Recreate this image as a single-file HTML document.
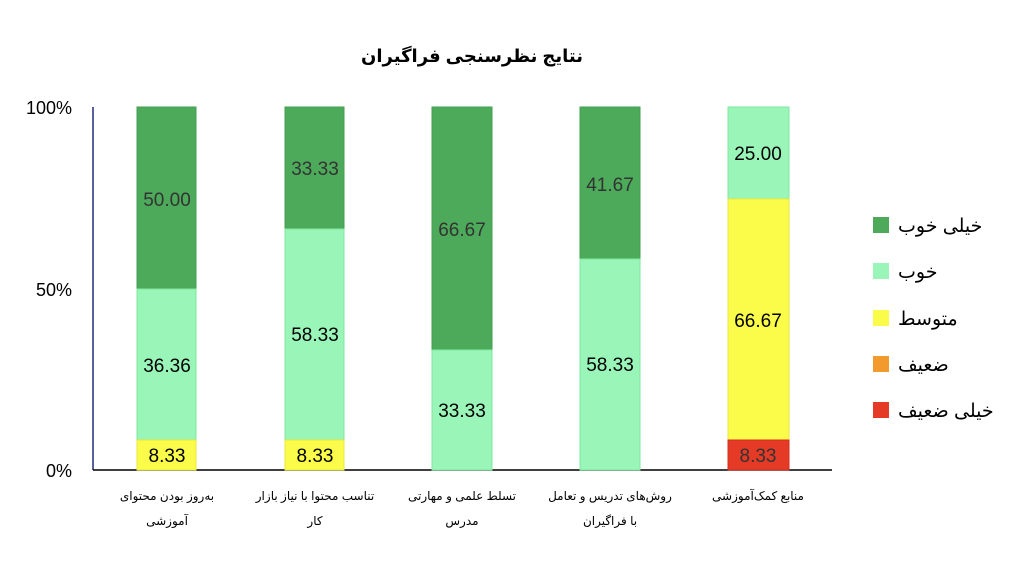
<!DOCTYPE html>
<html><head><meta charset="utf-8"><style>
body{margin:0;background:#fff;width:1024px;height:564px;overflow:hidden;font-family:"Liberation Sans","DejaVu Sans",sans-serif}
</style></head><body>
<svg width="1024" height="564" xmlns="http://www.w3.org/2000/svg" font-family="Liberation Sans, DejaVu Sans, sans-serif">
<rect width="1024" height="564" fill="#fff"/>
<text x="472" y="62" text-anchor="middle" font-size="18" font-weight="bold" fill="#000" direction="rtl">نتایج نظرسنجی فراگیران</text>
<line x1="93" y1="107" x2="93" y2="470" stroke="#1f2d7a" stroke-width="1.5"/>
<line x1="93" y1="470" x2="832" y2="470" stroke="#000" stroke-width="1.5"/>
<g font-size="18" fill="#000" text-anchor="end">
<text x="72" y="114">100%</text><text x="72" y="296">50%</text><text x="72" y="477">0%</text>
</g>
<g stroke-width="1">
<rect x="137" y="107" width="59" height="182" fill="#4caa5a" stroke="#43a050"/>
<rect x="137" y="289" width="59" height="151" fill="#99f5b8" stroke="#7fe89d"/>
<rect x="137" y="440" width="59" height="30" fill="#fbfb4a" stroke="#e8e840"/>
<rect x="285" y="107" width="59" height="122" fill="#4caa5a" stroke="#43a050"/>
<rect x="285" y="229" width="59" height="211" fill="#99f5b8" stroke="#7fe89d"/>
<rect x="285" y="440" width="59" height="30" fill="#fbfb4a" stroke="#e8e840"/>
<rect x="432" y="107" width="60" height="243" fill="#4caa5a" stroke="#43a050"/>
<rect x="432" y="350" width="60" height="120" fill="#99f5b8" stroke="#7fe89d"/>
<rect x="580" y="107" width="60" height="152" fill="#4caa5a" stroke="#43a050"/>
<rect x="580" y="259" width="60" height="211" fill="#99f5b8" stroke="#7fe89d"/>
<rect x="728" y="107" width="61" height="92" fill="#99f5b8" stroke="#7fe89d"/>
<rect x="728" y="199" width="61" height="241" fill="#fbfb4a" stroke="#e8e840"/>
<rect x="728" y="440" width="61" height="30" fill="#e53a25" stroke="#d0301e"/>
</g>
<g font-size="19" text-anchor="middle">
<text x="167" y="206" fill="#333">50.00</text>
<text x="167" y="372" fill="#000">36.36</text>
<text x="167" y="462" fill="#000">8.33</text>
<text x="315" y="175" fill="#333">33.33</text>
<text x="315" y="341" fill="#000">58.33</text>
<text x="315" y="462" fill="#000">8.33</text>
<text x="462" y="236" fill="#333">66.67</text>
<text x="462" y="417" fill="#000">33.33</text>
<text x="610" y="191" fill="#333">41.67</text>
<text x="610" y="371" fill="#000">58.33</text>
<text x="758" y="160" fill="#000">25.00</text>
<text x="758" y="327" fill="#000">66.67</text>
<text x="758" y="462" fill="#333">8.33</text>
</g>
<g font-size="12" text-anchor="middle" fill="#000" direction="rtl">
<text x="167" y="500">به‌روز بودن محتوای</text><text x="167" y="525">آموزشی</text>
<text x="315" y="500">تناسب محتوا با نیاز بازار</text><text x="315" y="525">کار</text>
<text x="462" y="500">تسلط علمی و مهارتی</text><text x="462" y="525">مدرس</text>
<text x="610" y="500">روش‌های تدریس و تعامل</text><text x="610" y="525">با فراگیران</text>
<text x="758" y="500">منابع کمک‌آموزشی</text>
</g>
<g>
<rect x="873" y="217" width="16" height="16" fill="#4caa5a"/>
<rect x="873" y="263" width="16" height="16" fill="#99f5b8"/>
<rect x="873" y="310" width="16" height="16" fill="#fbfb4a"/>
<rect x="873" y="356" width="16" height="16" fill="#f39a2c"/>
<rect x="873" y="402" width="16" height="16" fill="#e53a25"/>
</g>
<g font-size="19" fill="#000" text-anchor="start">
<text x="898" y="232">خیلی خوب</text>
<text x="898" y="278">خوب</text>
<text x="898" y="325">متوسط</text>
<text x="898" y="371">ضعیف</text>
<text x="898" y="417">خیلی ضعیف</text>
</g>
</svg>
</body></html>
